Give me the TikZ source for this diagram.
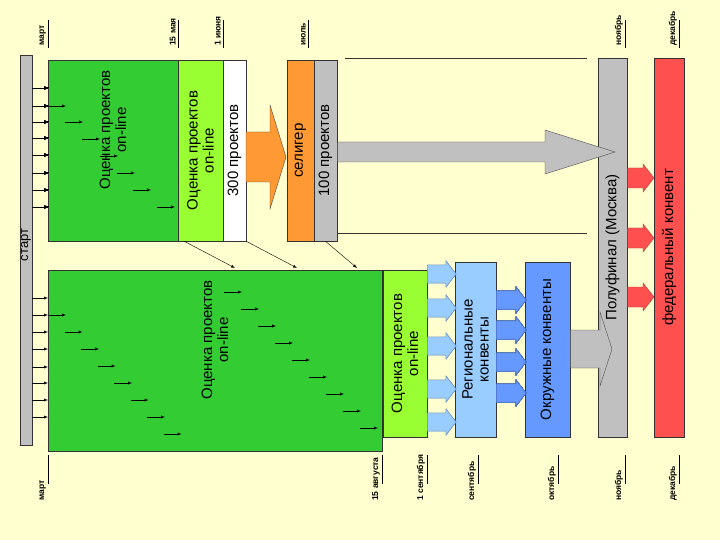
\documentclass[tikz,border=0pt]{standalone}
\usepackage{fontspec}
\setmainfont{Liberation Sans}
\definecolor{bg}{HTML}{FFFFD0}
\definecolor{dgreen}{HTML}{33CC33}
\definecolor{lgreen}{HTML}{99FF33}
\definecolor{orng}{HTML}{FF9933}
\definecolor{gry}{HTML}{C0C0C0}
\definecolor{rd}{HTML}{FF5050}
\definecolor{lblue}{HTML}{99CCFF}
\definecolor{mblue}{HTML}{6699FF}
% block arrow: [style]{x start}{x head}{x tip}{y}{shaft half}{head half}
\newcommand{\harrow}[7][]{\draw[#1] ({#2},{#5-#6}) -- ({#3},{#5-#6}) -- ({#3},{#5-#7}) -- ({#4},{#5}) -- ({#3},{#5+#7}) -- ({#3},{#5+#6}) -- ({#2},{#5+#6}) -- cycle;}
\begin{document}
\begin{tikzpicture}[x=1pt,y=-1pt]
\tikzstyle{box}=[draw=black!80,inner sep=0pt,line width=0.6pt]
\tikzstyle{rot}=[rotate=90,align=center,font=\fontsize{15}{16}\selectfont]
\tikzstyle{date}=[rotate=90,font=\fontsize{8.5}{9}\selectfont\bfseries,inner sep=1pt]
\tikzstyle{small}=[-latex,thin]
\fill[bg] (0,0) rectangle (720,540);
\useasboundingbox (0,0) rectangle (720,540);
% boxes
\node[box,fill=gry,minimum width=12pt,minimum height=390pt] (start) at (26,250) {};
\node[box,fill=dgreen,minimum width=130pt,minimum height=181pt] (eval1) at (113,150.5) {};
\node[box,fill=lgreen,minimum width=45pt,minimum height=181pt] (eval2) at (200.5,150.5) {};
\node[box,fill=white,minimum width=23pt,minimum height=181pt] (sel300) at (234.5,150.5) {};
\node[box,fill=orng,minimum width=27pt,minimum height=181pt] (seliger) at (300.5,150.5) {};
\node[box,fill=gry,minimum width=23pt,minimum height=181pt] (sel100) at (325.5,150.5) {};
\node[box,fill=dgreen,minimum width=334pt,minimum height=181pt] (eval3) at (215,360.5) {};
\node[box,fill=lgreen,minimum width=44pt,minimum height=167pt] (eval4) at (405,353.5) {};
\node[box,fill=lblue,minimum width=41pt,minimum height=175pt] (reg) at (475.5,349.5) {};
\node[box,fill=mblue,minimum width=45pt,minimum height=175pt] (okr) at (547.5,349.5) {};
\node[box,fill=gry,minimum width=29pt,minimum height=379pt] (semi) at (612.5,247.5) {};
\node[box,fill=rd,minimum width=30pt,minimum height=379pt] (fed) at (669,247.5) {};
% texts
\node[rot,font=\fontsize{13}{14}\selectfont] at (start.center|-0,245) {старт};
\node[rot] at (113,130) {Оценка проектов\\on-line};
\node[rot] at (eval2) {Оценка проектов\\on-line};
\node[rot] at (sel300) {300 проектов};
\node[rot] at (seliger) {селигер};
\node[rot] at (sel100) {100 проектов};
\node[rot] at (215,340) {Оценка проектов\\on-line};
\node[rot] at (eval4) {Оценка проектов\\on-line};
\node[rot] at (reg) {Региональные\\конвенты};
\node[rot] at (okr) {Окружные конвенты};
\node[rot] at (semi) {Полуфинал (Москва)};
\node[rot] at (fed) {федеральный конвент};
% block arrows
\harrow[fill=orng,draw=black!70]{246}{270}{286}{157}{25}{52}
\draw[black!80] (345,58) -- (587,58);
\draw[black!80] (337,233) -- (587,233);
\harrow[fill=gry,draw=black!70]{337.5}{545}{615}{152}{10}{22}
\harrow[fill=gry,draw=black!70]{570.5}{600}{612}{349}{19}{37}
\foreach \y in {178,238,297}
  \harrow[fill=rd,draw=rd!70!black]{627.5}{643}{654}{\y}{10}{14}
\foreach \y in {274,308,346,389,422}
  \harrow[fill=lblue,draw=lblue!70!black]{427.5}{446}{456}{\y}{9}{13}
\foreach \y in {300,330,362,393}
  \harrow[fill=mblue,draw=mblue!70!black]{496.5}{516}{526}{\y}{9}{13}
% small arrows
\foreach \y in {88,106,122,138,155,173,190,207}
  \draw[small] (start.east|-0,\y) -- (48,\y);
\foreach \y in {298,315,332,349,367,383,400,417}
  \draw[small] (start.east|-0,\y) -- (48,\y);
\foreach \x/\y in {48/106,65/122,82/139,100/156,117/173,133/190,157/207}
  \draw[small] (\x,\y) -- ++(18,0);
\foreach \i in {0,...,7}
  \draw[small] ({48+\i*16.5},{315+\i*17}) -- ++(18,0);
\foreach \i in {0,...,8}
  \draw[small] ({224+\i*17},{292+\i*17}) -- ++(18,0);
\draw[-latex] (eval1.south east) ++(6,0) coordinate (d1) -- (235,268);
\draw[-latex] (sel300.south east) coordinate (d2) -- (297,268);
\draw[-latex] (sel100.south) coordinate (d3) -- (357,268);
% dates
\foreach \x/\t in {48/март,178/15 мая,223/1 июня,308/июль,625/ноябрь,679/декабрь}
  { \node[date,anchor=south west] (dt\x) at (\x-1,47) {\t};
    \draw (\x,20) -- (\x,48); }
\foreach \x/\t in {48/март,382/15 августа,427/1 сентября,478/сентябрь,558/октябрь,625/ноябрь,679/декабрь}
  { \node[date,anchor=south west] (db\x) at (\x-1,502) {\t};
    \draw (\x,455) -- (\x,484); }
\end{tikzpicture}
\end{document}
